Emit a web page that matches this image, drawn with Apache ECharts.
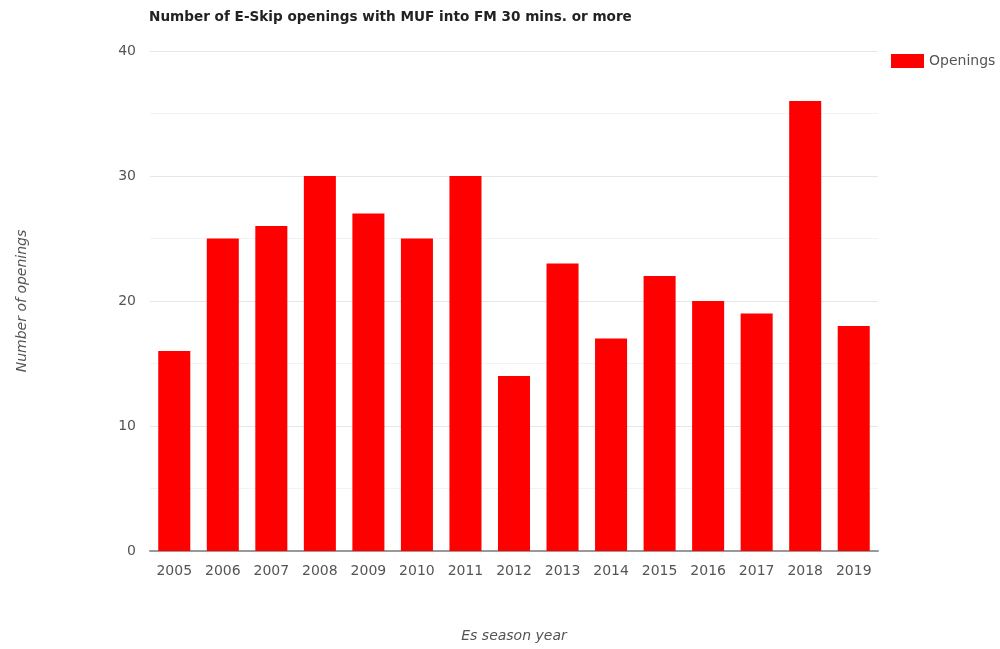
<!DOCTYPE html>
<html><head><meta charset="utf-8">
<script src="https://cdn.jsdelivr.net/npm/echarts@6/dist/echarts.min.js"></script>
<style>html,body{margin:0;padding:0;background:#fff}#c{width:1000px;height:649px}</style>
</head><body><div id="c"></div>
<script>
const years = ['2005','2006','2007','2008','2009','2010','2011','2012','2013','2014','2015','2016','2017','2018','2019'];
const openings = [16,25,26,30,27,25,30,14,23,17,22,20,19,36,18];
const yTicks = [0,10,20,30,40];
const F = 'DejaVu Sans';

const chart = echarts.init(document.getElementById('c'));
chart.setOption({
  animation:false,
  title:{text:'Number of E-Skip openings with MUF into FM 30 mins. or more',left:149,top:10,padding:0,
    textStyle:{fontFamily:F,fontSize:13.6,fontWeight:'bold',color:'#222'}},
  legend:{data:['Openings'],left:891,top:54,padding:0,itemWidth:33,itemHeight:14,itemGap:6,icon:'rect',
    textStyle:{fontFamily:F,fontSize:14,color:'#555'}},
  grid:{left:150,right:122,top:51,bottom:98},
  xAxis:{type:'category',data:years,
    axisLine:{lineStyle:{color:'#999',width:2}},axisTick:{show:false},
    axisLabel:{fontFamily:F,fontSize:14,color:'#555',margin:13},
    name:'Es season year',nameLocation:'middle',nameGap:78,
    nameTextStyle:{fontFamily:F,fontSize:14,fontStyle:'italic',color:'#555'}},
  yAxis:{type:'value',min:yTicks[0],max:yTicks[yTicks.length-1],interval:10,
    axisLine:{show:false},axisTick:{show:false},
    axisLabel:{fontFamily:F,fontSize:14,color:'#555',margin:14},
    splitLine:{lineStyle:{color:'#e6e6e6',width:1}},
    minorTick:{show:false,splitNumber:2},minorSplitLine:{show:true,lineStyle:{color:'#f3f3f3'}},
    name:'Number of openings',nameLocation:'middle',nameGap:121,nameRotate:90,
    nameTextStyle:{fontFamily:F,fontSize:14,fontStyle:'italic',color:'#555'}},
  series:[{name:'Openings',type:'bar',data:openings,barCategoryGap:'34%',itemStyle:{color:'#ff0000'}}]
});
</script></body></html>
